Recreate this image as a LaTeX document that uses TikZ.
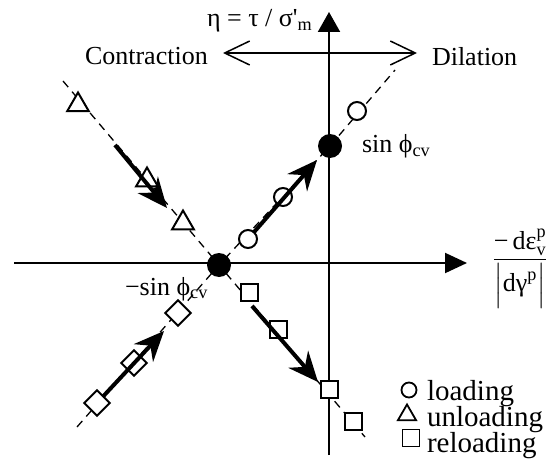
\documentclass[tikz,border=0pt]{standalone}
\usepackage{amsmath}
\usepackage{fontspec}
\setmainfont{Liberation Serif}
\usetikzlibrary{arrows.meta,shapes.geometric}
\pgfdeclarelayer{bg}
\pgfsetlayers{bg,main}
\begin{document}
\begin{tikzpicture}[x=1pt,y=-1pt,
  every node/.style={inner sep=0pt,outer sep=0pt},
  lbl/.style={font=\fontsize{26}{30}\selectfont, anchor=base west},
  leg/.style={font=\fontsize{29}{33}\selectfont, anchor=base west},
  axln/.style={line width=2pt},
  dashline/.style={line width=1.3pt, dash pattern=on 8pt off 6pt},
  mk/.style={draw, line width=2pt, fill=white},
  circ/.style={mk, circle, minimum size=18pt},
  tri/.style={mk, regular polygon, regular polygon sides=3, minimum size=25pt},
  sqr/.style={mk, rectangle, minimum size=17pt},
  dia/.style={mk, rectangle, minimum size=18pt, rotate=45},
  bdot/.style={circle, fill=black, minimum size=24pt},
  thk/.style={line width=4pt, -{Stealth[length=30pt 0 0,width=26pt 0,inset=10pt 0]}},
  barb/.style={line width=1.5pt, {Straight Barb[length=25pt,width=24pt]}-{Straight Barb[length=25pt,width=24pt]}},
]
\useasboundingbox (0,0) rectangle (556,465);

% free ends
\coordinate (xs) at (14,263);
\coordinate (xe) at (467,263);
\coordinate (ys) at (329,455);
\coordinate (ye) at (329,12);
\coordinate (cl) at (223,53);
\coordinate (cr) at (417,53);
\coordinate (d1s) at (63,81);
\coordinate (d1e) at (365,437);
\coordinate (d2s) at (77,427);
\coordinate (d2e) at (395,70);

% black dots
\node[bdot] (dotA) at (219,265) {};
\node[bdot] (dotB) at (330,146) {};

% background lines
\begin{pgfonlayer}{bg}
  \draw[axln, -{Triangle[length=22pt,width=20pt]}] (xs) -- (xe);
  \draw[axln, -{Triangle[length=20pt,width=22pt]}] (ys) -- (ye);
  \draw[dashline] (d1s) -- (dotA.center) -- (d1e);
  \draw[dashline] (d2s) -- (dotA.center) -- (dotB.center) -- (d2e);
\end{pgfonlayer}

% loading (circles)
\node[circ] (c1) at (248,239) {};
\node[circ] (c2) at (283,197) {};
\node[circ] (c3) at (357,111) {};
% unloading (triangles)
\node[tri] (t1) at (78,105) {};
\node[tri] (t2) at (147,180) {};
\node[tri] (t3) at (183,223) {};
% reloading (squares)
\node[sqr] (s1) at (249,292) {};
\node[sqr] (s2) at (278,329) {};
\node[sqr] (s3) at (329,389) {};
\node[sqr] (s4) at (353,421) {};
% diamonds
\node[dia] (m1) at (97,403) {};
\node[dia] (m2) at (134,363) {};
\node[dia] (m3) at (178,313) {};

% thick arrows
\coordinate (la) at (317,160);
\coordinate (ua) at (115,145);
\coordinate (ub) at (167,208);
\coordinate (ra) at (252,306);
\coordinate (rb) at (318,382);
\coordinate (ma) at (164,331);
\draw[thk] (c1) -- (la);
\draw[thk] (ua) -- (ub);
\draw[thk] (ra) -- (rb);
\draw[thk] (m1) -- (ma);

% top double arrow
\draw[barb] (cl) -- (cr);

% labels
\node[lbl] (eta) at (207,27) {η = τ / σ\textquotesingle\textsubscript{m}};
\node[lbl] (contr) at (85,65) {Contraction};
\node[lbl] (dil) at (432,66) {Dilation};
\node[lbl] (sinp) at (362,153) {sin ϕ\textsubscript{cv}};
\node[lbl] (sinn) at (125,295) {−sin ϕ\textsubscript{cv}};
\node[font=\fontsize{26}{30}\selectfont, anchor=base] (frac) at (520,266)
  {$\dfrac{\text{−\,dε}^{\text{p}}_{\text{v}}}{\Bigl|\text{dγ}^{\text{p}}\Bigr|}$};

% legend
\node[mk, circle, minimum size=15pt, line width=1.8pt] (lc) at (409,390) {};
\node[mk, regular polygon, regular polygon sides=3, minimum size=21pt, line width=1.8pt] (lt) at (407,415) {};
\node[mk, rectangle, minimum size=17pt, line width=1.8pt] (ls) at (411,438) {};
\node[leg] (lct) at (427,400) {loading};
\node[leg] (ltt) at (427,426) {unloading};
\node[leg] (lst) at (427,452) {reloading};
\end{tikzpicture}
\end{document}
